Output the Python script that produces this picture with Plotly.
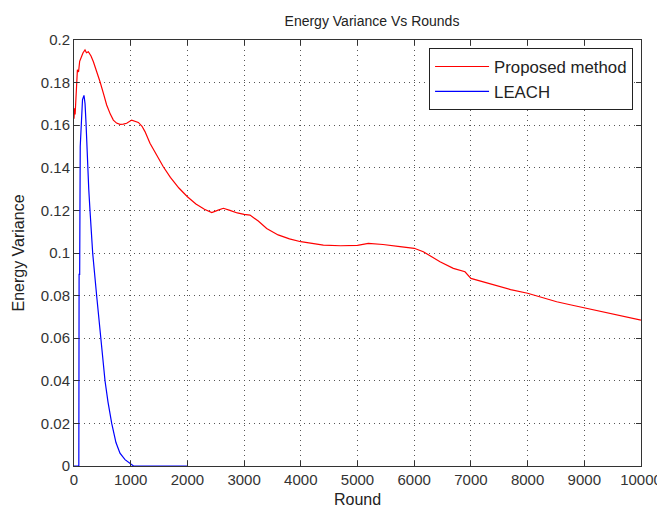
import plotly.graph_objects as go

# Proposed method
proposed_round = [0, 10, 20, 30, 45, 60, 80, 100, 130, 160, 194, 220, 253, 300, 342, 400, 459, 520, 576, 640,
                  694, 750, 811, 870, 929, 1017, 1080, 1135, 1200, 1252, 1340, 1450, 1575, 1700, 1850, 2000,
                  2150, 2300, 2430, 2530, 2634, 2750, 2880, 3000, 3104, 3250, 3398, 3600, 3800, 4000, 4200,
                  4398, 4700, 5000, 5191, 5450, 5750, 6000, 6161, 6300, 6455, 6690, 6896, 7000, 7200, 7455,
                  7700, 8000, 8250, 8513, 8750, 9000, 9250, 9500, 9750, 10000]
proposed_var = [0.163, 0.168, 0.165, 0.172, 0.180, 0.186, 0.185, 0.190, 0.192, 0.194, 0.1953, 0.194, 0.1945,
                0.1925, 0.1898, 0.1855, 0.1804, 0.1748, 0.1695, 0.1652, 0.1624, 0.1610, 0.1604, 0.1605, 0.1609,
                0.1624, 0.1620, 0.1613, 0.1595, 0.157, 0.1515, 0.1460, 0.1405, 0.1355, 0.1305, 0.1264, 0.1230,
                0.1205, 0.1190, 0.1200, 0.1210, 0.1200, 0.1188, 0.1181, 0.1178, 0.1150, 0.1115, 0.1085, 0.1066,
                0.1053, 0.1044, 0.1037, 0.1034, 0.1036, 0.1045, 0.1040, 0.1030, 0.1022, 0.1006, 0.0982, 0.0959,
                0.0928, 0.0912, 0.0881, 0.0865, 0.0845, 0.0828, 0.0811, 0.0791, 0.0771, 0.0757, 0.0743, 0.0727,
                0.0712, 0.0698, 0.0685]

# LEACH
leach_round = [0, 85, 90, 100, 110, 130, 150, 176, 195, 212, 236, 260, 282, 330, 400, 470, 547, 600, 665,
               740, 811, 900, 976, 1050, 2000]
leach_var = [0, 0, 0.09, 0.09, 0.150, 0.165, 0.172, 0.174, 0.170, 0.161, 0.1405, 0.130, 0.120, 0.0998, 0.0798,
             0.060, 0.040, 0.030, 0.020, 0.011, 0.006, 0.003, 0.0013, 0.0, 0.0]

x_ticks = [0, 1000, 2000, 3000, 4000, 5000, 6000, 7000, 8000, 9000, 10000]
y_ticks = [0, 0.02, 0.04, 0.06, 0.08, 0.1, 0.12, 0.14, 0.16, 0.18, 0.2]
y_tick_text = ["0", "0.02", "0.04", "0.06", "0.08", "0.1", "0.12", "0.14", "0.16", "0.18", "0.2"]

fig = go.Figure()
fig.add_trace(go.Scatter(x=proposed_round, y=proposed_var, mode="lines", name="Proposed method",
                         line=dict(color="#ff0000", width=1.2)))
fig.add_trace(go.Scatter(x=leach_round, y=leach_var, mode="lines", name="LEACH",
                         line=dict(color="#0000ff", width=1.2)))

font = "Liberation Sans, Arial, Helvetica, sans-serif"
axis_common = dict(showline=True, linecolor="#333333", linewidth=1, mirror="allticks",
                   ticks="inside", ticklen=5, tickcolor="#333333",
                   showgrid=True, gridcolor="#555555", gridwidth=1, griddash="1px,4px",
                   zeroline=False, automargin=False,
                   tickfont=dict(family=font, size=15, color="#333333"))

fig.update_layout(
    width=657, height=501,
    margin=dict(l=66, r=24, t=32, b=43),
    paper_bgcolor="white", plot_bgcolor="white",
    title=dict(text="Energy Variance Vs Rounds", x=0.554, xanchor="center", y=0.973, yanchor="middle",
               font=dict(family=font, size=14, color="#222222")),
    xaxis=dict(range=[0, 10000], tickvals=x_ticks, ticktext=[str(v) for v in x_ticks],
               title=dict(text="Round", font=dict(family=font, size=16, color="#222222"), standoff=6),
               **axis_common),
    yaxis=dict(range=[0, 0.2], tickvals=y_ticks, ticktext=y_tick_text,
               title=dict(text="Energy Variance", font=dict(family=font, size=16, color="#222222"), standoff=12),
               **axis_common),
    legend=dict(x=0.986, xanchor="right", y=0.981, yanchor="top", bgcolor="white",
                bordercolor="#222222", borderwidth=1, font=dict(family=font, size=16.8, color="#222222"),
                tracegroupgap=0, itemwidth=54),
    showlegend=True,
)

fig.write_html("out.html")
